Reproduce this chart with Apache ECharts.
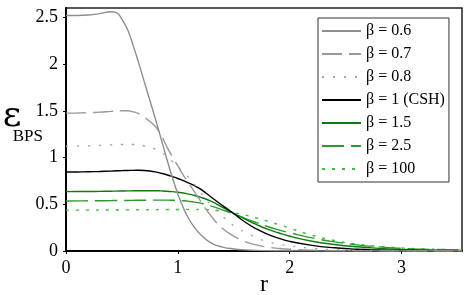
<!DOCTYPE html>
<html>
<head>
<meta charset="utf-8">
<script src="https://cdn.jsdelivr.net/npm/echarts@6/dist/echarts.min.js"></script>
<style>html,body{margin:0;padding:0;background:#fff;}#c{width:469px;height:295px;}</style>
</head>
<body>
<div id="c"></div>
<script>
var rValues = [0, 0.1, 0.2, 0.3, 0.4, 0.45, 0.5, 0.55, 0.6, 0.65, 0.7, 0.75, 0.8, 0.85, 0.9, 0.95, 1.0, 1.05, 1.1, 1.15, 1.2, 1.3, 1.4, 1.5, 1.6, 1.7, 1.8, 1.9, 2.0, 2.2, 2.4, 2.6, 2.8, 3.0, 3.2, 3.54];
var beta06 = [2.52,2.52,2.525,2.54,2.56,2.55,2.48,2.37,2.20,2.01,1.81,1.61,1.41,1.20,0.99,0.79,0.61,0.46,0.34,0.25,0.18,0.085,0.042,0.022,0.012,0.007,0.004,0.003,0.002,0.001,0,0,0,0,0,0];
var beta07 = [1.475,1.477,1.48,1.486,1.494,1.498,1.50,1.50,1.49,1.47,1.43,1.385,1.33,1.24,1.12,1.01,0.91,0.81,0.72,0.63,0.54,0.37,0.24,0.16,0.10,0.065,0.042,0.028,0.019,0.009,0.004,0.002,0.001,0,0,0];
var beta08 = [1.12,1.122,1.125,1.13,1.135,1.138,1.14,1.14,1.14,1.135,1.125,1.11,1.09,1.06,1.01,0.96,0.90,0.84,0.78,0.71,0.63,0.485,0.37,0.27,0.20,0.145,0.10,0.075,0.055,0.028,0.014,0.007,0.004,0.002,0.001,0];
var beta1 = [0.845,0.846,0.848,0.851,0.855,0.858,0.86,0.862,0.863,0.864,0.862,0.856,0.846,0.832,0.816,0.797,0.776,0.752,0.727,0.698,0.665,0.575,0.485,0.40,0.31,0.238,0.18,0.137,0.103,0.06,0.034,0.018,0.01,0.006,0.004,0.002];
var beta15 = [0.635,0.636,0.637,0.638,0.64,0.641,0.642,0.643,0.644,0.645,0.645,0.645,0.645,0.643,0.64,0.635,0.628,0.62,0.608,0.594,0.577,0.53,0.468,0.403,0.34,0.285,0.235,0.195,0.158,0.105,0.07,0.045,0.028,0.017,0.01,0.005];
var beta25 = [0.535,0.536,0.537,0.538,0.539,0.54,0.54,0.541,0.542,0.543,0.543,0.544,0.544,0.544,0.544,0.543,0.541,0.537,0.531,0.523,0.512,0.48,0.44,0.397,0.35,0.305,0.262,0.226,0.195,0.14,0.098,0.066,0.044,0.029,0.019,0.01];
var beta100 = [0.437,0.437,0.437,0.438,0.438,0.439,0.439,0.44,0.44,0.441,0.441,0.442,0.442,0.443,0.443,0.444,0.444,0.445,0.445,0.445,0.444,0.44,0.428,0.41,0.385,0.355,0.32,0.283,0.245,0.168,0.112,0.074,0.049,0.033,0.022,0.012];
var seriesNames = ['β = 0.6', 'β = 0.7', 'β = 0.8', 'β = 1 (CSH)', 'β = 1.5', 'β = 2.5', 'β = 100'];
var xTickLabels = ['0', '1', '2', '3'];
var yTickLabels = ['0', '0.5', '1', '1.5', '2', '2.5'];

var allValues = [beta06, beta07, beta08, beta1, beta15, beta25, beta100];
var styles = [
  {color: '#8e8e8e', type: 'solid'},
  {color: '#999999', type: [20, 7]},
  {color: '#a3a3a3', type: [2, 9]},
  {color: '#000000', type: 'solid'},
  {color: '#0e7a0e', type: 'solid'},
  {color: '#2b9a2b', type: [22, 7]},
  {color: '#3cbc3c', type: [3, 7]}
];
var serif = "'Liberation Serif', 'Times New Roman', serif";

function pairs(vals) {
  return rValues.map(function (r, i) { return [r, vals[i]]; });
}

var series = allValues.map(function (vals, i) {
  return {
    name: seriesNames[i],
    type: 'line',
    data: pairs(vals),
    symbol: 'none',
    smooth: 0.5,
    lineStyle: {color: styles[i].color, width: 1.4, type: styles[i].type},
    itemStyle: {color: styles[i].color},
    z: 10 - i
  };
});

var chart = echarts.init(document.getElementById('c'), null, {renderer: 'canvas'});
chart.setOption({
  animation: false,
  backgroundColor: '#ffffff',
  grid: {left: 66, right: 7, top: 8, bottom: 44, show: true, borderColor: '#222', borderWidth: 1.5, backgroundColor: 'transparent', outerBoundsMode: 'none', containLabel: false},
  legend: {
    data: seriesNames,
    orient: 'vertical',
    left: 318,
    top: 18,
    padding: [5, 4, 5, 3],
    itemWidth: 39,
    itemHeight: 10,
    itemGap: 7,
    itemStyle: {opacity: 0},
    backgroundColor: '#fff',
    borderColor: '#333',
    borderWidth: 1,
    borderRadius: 0,
    textStyle: {fontFamily: serif, fontSize: 16, color: '#000', lineHeight: 16}
  },
  xAxis: {
    type: 'value',
    min: 0,
    max: 3.54,
    interval: 1,
    name: 'r',
    nameLocation: 'middle',
    nameGap: 22,
    nameMoveOverlap: false,
    nameTextStyle: {fontFamily: serif, fontSize: 24, color: '#000'},
    axisLine: {show: true, onZero: false, lineStyle: {color: '#000', width: 2}},
    axisTick: {show: true, length: 3, lineStyle: {color: '#000'}},
    axisLabel: {
      fontFamily: serif, fontSize: 18, color: '#000', margin: 8, showMaxLabel: false,
      formatter: function (v) { var i = Math.round(v); return (Math.abs(v - i) < 1e-6 && xTickLabels[i] !== undefined) ? xTickLabels[i] : ''; }
    },
    splitLine: {show: false}
  },
  yAxis: {
    type: 'value',
    min: 0,
    max: 2.6,
    interval: 0.5,
    name: '{e|ε}\n{s|BPS}',
    nameLocation: 'middle',
    nameRotate: 0,
    nameGap: 23,
    nameMoveOverlap: false,
    nameTextStyle: {
      fontFamily: serif, color: '#000', padding: [0, 0, 10, 0],
      rich: {
        e: {fontFamily: "'DejaVu Serif', serif", fontSize: 36, lineHeight: 24, color: '#000', align: 'left'},
        s: {fontFamily: serif, fontSize: 17, lineHeight: 15, color: '#000', align: 'left', padding: [0, 0, 0, 10]}
      }
    },
    axisLine: {show: true, onZero: false, lineStyle: {color: '#000', width: 2}},
    axisTick: {show: true, length: 3, lineStyle: {color: '#000'}},
    axisLabel: {
      fontFamily: serif, fontSize: 18, color: '#000', margin: 8, showMaxLabel: false,
      formatter: function (v) { var i = Math.round(v * 2); return (Math.abs(v * 2 - i) < 1e-6 && yTickLabels[i] !== undefined) ? yTickLabels[i] : ''; }
    },
    splitLine: {show: false}
  },
  series: series
});
</script>
</body>
</html>
